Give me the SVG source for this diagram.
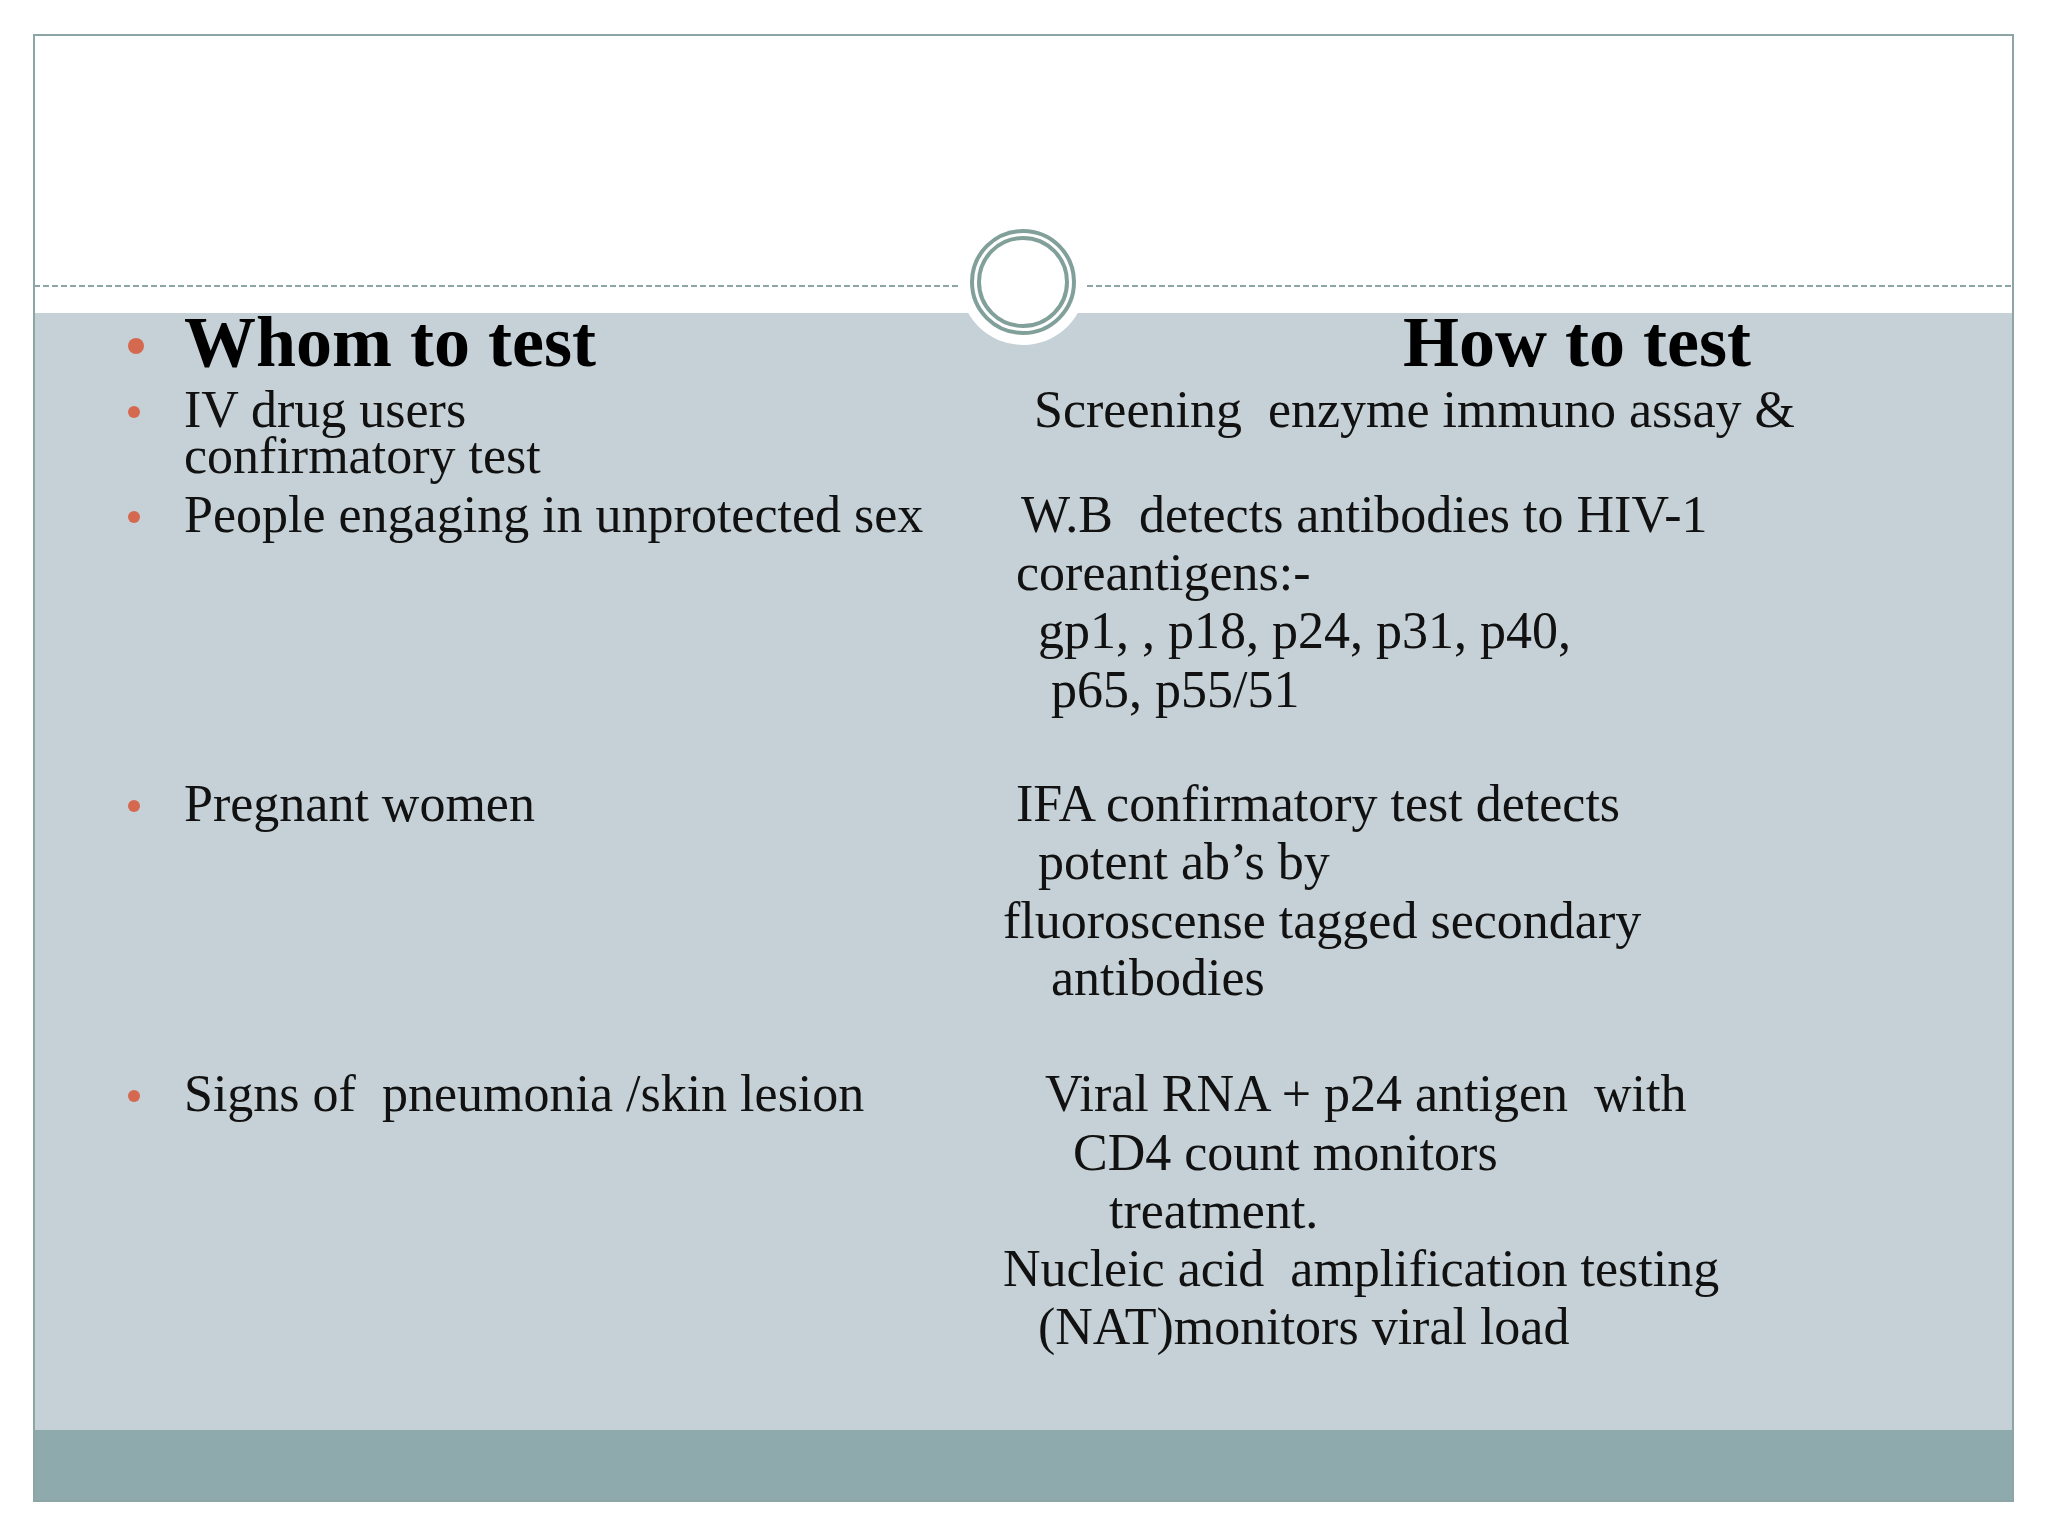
<svg xmlns="http://www.w3.org/2000/svg" width="2048" height="1536" viewBox="0 0 2048 1536">
<style>
.t{font-family:"Liberation Serif",serif;font-size:52px;fill:#111;white-space:pre}
.h{font-family:"Liberation Serif",serif;font-size:72px;font-weight:bold;fill:#000}
.b{fill:#d5694f}
</style>
<rect width="2048" height="1536" fill="#fff"/>
<rect x="34" y="313" width="1979" height="1117" fill="#c5d1d6"/>
<rect x="34" y="1430" width="1979" height="71" fill="#8eaaac"/>
<rect x="34" y="35" width="1979" height="1466" fill="none" stroke="#8ea5a5" stroke-width="2"/>
<line x1="34" y1="286" x2="2013" y2="286" stroke="#8ea5a5" stroke-width="2" stroke-dasharray="6,3"/>
<circle cx="1023" cy="282" r="63" fill="#fff"/>
<circle cx="1023" cy="282" r="51" fill="none" stroke="#82a09a" stroke-width="4"/>
<circle cx="1023" cy="282" r="44" fill="none" stroke="#82a09a" stroke-width="4"/>
<g id="left">
<circle class="b" cx="136" cy="346" r="8"/>
<text class="h" x="184" y="366">Whom to test</text>
<circle class="b" cx="134" cy="412" r="6"/>
<text class="t" x="184" y="427">IV drug users</text>
<text class="t" x="184" y="473">confirmatory test</text>
<circle class="b" cx="134" cy="517" r="6"/>
<text class="t" x="184" y="532">People engaging in unprotected sex</text>
<circle class="b" cx="134" cy="806" r="6"/>
<text class="t" x="184" y="821">Pregnant women</text>
<circle class="b" cx="134" cy="1096" r="6"/>
<text class="t" x="184" y="1111">Signs of  pneumonia /skin lesion</text>
</g>
<g id="right">
<text class="h" x="1403" y="366">How to test</text>
<text class="t" x="1034" y="427">Screening  enzyme immuno assay &amp;</text>
<text class="t" x="1021" y="532">W.B  detects antibodies to HIV-1</text>
<text class="t" x="1016" y="590">coreantigens:-</text>
<text class="t" x="1038" y="648">gp1, , p18, p24, p31, p40,</text>
<text class="t" x="1051" y="707">p65, p55/51</text>
<text class="t" x="1016" y="821">IFA confirmatory test detects</text>
<text class="t" x="1038" y="879">potent ab’s by</text>
<text class="t" x="1003" y="938">fluoroscense tagged secondary</text>
<text class="t" x="1051" y="995">antibodies</text>
<text class="t" x="1045" y="1111">Viral RNA + p24 antigen  with</text>
<text class="t" x="1073" y="1170">CD4 count monitors</text>
<text class="t" x="1109" y="1228">treatment.</text>
<text class="t" x="1003" y="1286">Nucleic acid  amplification testing</text>
<text class="t" x="1038" y="1344">(NAT)monitors viral load</text>
</g>
</svg>
